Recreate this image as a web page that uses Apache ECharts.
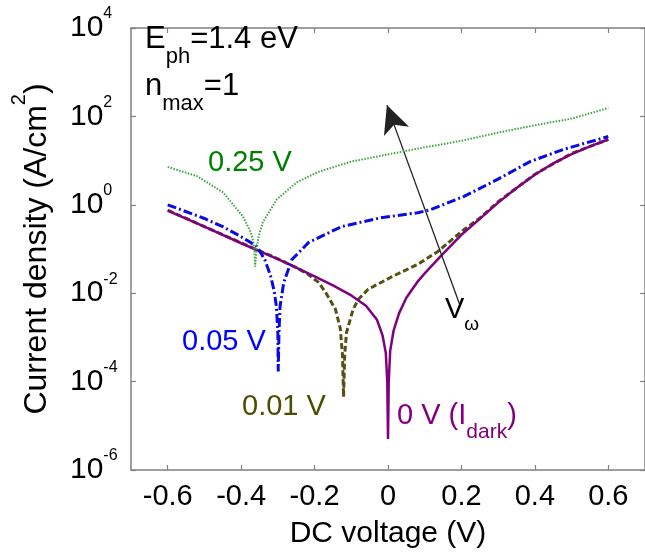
<!DOCTYPE html>
<html><head><meta charset="utf-8">
<script src="https://cdn.jsdelivr.net/npm/echarts@6/dist/echarts.min.js"></script>
<style>html,body{margin:0;padding:0;background:#fff}#c{width:645px;height:554px}</style>
</head><body><div id="c"></div>
<script>
// ---- data ----
const xTicks = [-0.6, -0.4, -0.2, 0, 0.2, 0.4, 0.6];
const yTicks = [1e-6, 1e-4, 1e-2, 1, 1e2, 1e4];

const darkX = [-0.6, -0.5, -0.4, -0.3, -0.25, -0.2, -0.15, -0.1, -0.06, -0.03, -0.015, -0.006, -0.002, 0, 0.002, 0.006, 0.015, 0.03, 0.05, 0.08, 0.1, 0.143, 0.2, 0.25, 0.3, 0.35, 0.4, 0.45, 0.5, 0.55, 0.6];
const darkY = [0.74, 0.32, 0.135, 0.059, 0.038, 0.024, 0.015, 0.0089, 0.0052, 0.0025, 0.00112, 0.00045, 0.0001, 5e-6, 0.0001, 0.0005, 0.0014, 0.0035, 0.0079, 0.018, 0.028, 0.068, 0.21, 0.48, 1.12, 2.4, 4.8, 8.7, 14, 21, 30];

const v001X = [-0.6, -0.5, -0.4, -0.3, -0.25, -0.22, -0.19, -0.17, -0.143, -0.13, -0.124, -0.121, -0.118, -0.113, -0.095, -0.081, -0.054, 0.008, 0.081, 0.135, 0.207, 0.25, 0.3, 0.4, 0.5, 0.6];
const v001Y = [0.76, 0.32, 0.138, 0.060, 0.038, 0.0275, 0.0178, 0.0105, 0.0043, 0.0016, 0.0004, 4.5e-5, 0.0004, 0.0013, 0.0043, 0.0072, 0.0123, 0.023, 0.045, 0.087, 0.275, 0.50, 1.17, 4.9, 14.5, 30];

const v005X = [-0.6, -0.5, -0.45, -0.4, -0.357, -0.335, -0.32, -0.31, -0.304, -0.3, -0.299, -0.297, -0.294, -0.284, -0.262, -0.216, -0.127, -0.019, 0.081, 0.117, 0.207, 0.297, 0.387, 0.477, 0.6];
const v005Y = [1.0, 0.49, 0.32, 0.19, 0.115, 0.056, 0.025, 0.0112, 0.005, 0.00126, 1.7e-4, 0.00126, 0.005, 0.0174, 0.0575, 0.141, 0.32, 0.51, 0.66, 0.78, 1.55, 3.7, 9.5, 17.8, 35];

const v025X = [-0.6, -0.519, -0.449, -0.395, -0.375, -0.368, -0.364, -0.362, -0.358, -0.352, -0.341, -0.303, -0.249, -0.189, -0.1, 0, 0.1, 0.2, 0.3, 0.4, 0.5, 0.6];
const v025Y = [7.2, 4.4, 1.9, 0.54, 0.25, 0.162, 0.1, 0.04, 0.1, 0.2, 0.4, 1.32, 3.2, 5.6, 9.5, 13.8, 20, 28, 43, 63, 89, 155];

const arrowFrom = [0.195, 5.6e-3];
const arrowTo = [-0.003, 180];

const pairs = (xs, ys) => xs.map((x, i) => [x, ys[i]]);

// ---- styling ----
const FONT = 'Liberation Sans, Arial, Helvetica, sans-serif';
const AX = '#808080';
const C_DARK = '#800080', C_001 = '#525214', C_005 = '#0a0ae6', C_025 = '#3aa63a';

const chart = echarts.init(document.getElementById('c'), null, {renderer: 'canvas'});

const yLabelFmt = v => '{b|10}{s|' + Math.round(Math.log10(v)) + '}';

function xAxisCfg(pos, main) {
  return {
    type: 'value', min: -0.7, max: 0.7, position: pos,
    axisLine: {show: true, onZero: false, lineStyle: {color: AX, width: 1.5}},
    axisTick: {show: true, inside: true, length: 5, customValues: xTicks, lineStyle: {color: AX, width: 1.2}},
    axisLabel: main ? {customValues: xTicks, fontSize: 29, color: '#000', margin: 12, fontFamily: FONT,
      formatter: v => String(Math.round(v * 10) / 10)} : {show: false},
    splitLine: {show: false},
    name: main ? 'DC voltage (V)' : '', nameLocation: 'middle', nameGap: 49,
    nameTextStyle: {fontSize: 30, color: '#000', fontFamily: FONT}
  };
}
function yAxisCfg(pos, main) {
  return {
    type: 'log', logBase: 10, min: 1e-6, max: 1e4, position: pos,
    axisLine: {show: true, onZero: false, lineStyle: {color: AX, width: 1.5}},
    axisTick: {show: true, inside: true, length: 5, customValues: yTicks, lineStyle: {color: AX, width: 1.2}},
    minorTick: {show: false},
    axisLabel: main ? {customValues: yTicks, formatter: yLabelFmt, align: 'left', margin: 61, color: '#000',
      rich: {b: {fontSize: 30, fontFamily: FONT, color: '#000'}, s: {fontSize: 16, fontFamily: FONT, color: '#000', padding: [0, 0, 28, 0]}}} : {show: false},
    splitLine: {show: false},
    name: main ? '{t|Current density (A/cm}{s|2}{t|)}' : '', nameLocation: 'middle', nameGap: 66, nameRotate: 90,
    nameTextStyle: {rich: {t: {fontSize: 32, fontFamily: FONT, color: '#000'}, s: {fontSize: 20, fontFamily: FONT, color: '#000', padding: [0, 0, 36, 0]}}}
  };
}

// annotation text helper: parts = [[text, isSub], ...]
function label(x, baseline, parts, color, F, subF, P) {
  const hasSub = parts.some(p => p[1]);
  const lh = hasSub ? Math.max(F, subF + P) : F;
  const y = baseline - (lh / 2 + 0.35 * F);
  return {
    type: 'text', left: x, top: y, z: 100,
    style: {
      text: parts.map(p => '{' + (p[1] ? 's' : 'b') + '|' + p[0] + '}').join(''),
      rich: {b: {fontSize: F, fontFamily: FONT, fill: color, color: color},
             s: {fontSize: subF, fontFamily: FONT, fill: color, color: color, padding: [P, 0, 0, 0]}}
    }
  };
}

const option = {
  animation: false,
  backgroundColor: '#fff',
  grid: {left: 131, top: 28, width: 518, height: 443, containLabel: false},
  xAxis: [xAxisCfg('bottom', true), xAxisCfg('top', false)],
  yAxis: [yAxisCfg('left', true), yAxisCfg('right', false)],
  series: [
    {name: '0.01 V', type: 'line', data: pairs(v001X, v001Y), symbol: 'none', z: 2,
     lineStyle: {color: C_001, width: 3, type: [6, 3]}},
    {name: '0 V', type: 'line', data: pairs(darkX, darkY), symbol: 'none', z: 3,
     lineStyle: {color: C_DARK, width: 2.5},
     markLine: {silent: true, animation: false, symbol: ['none', 'arrow'], symbolSize: [20, 28],
       label: {show: false}, itemStyle: {color: '#111'}, lineStyle: {color: '#222', width: 1.3, type: 'solid'},
       emphasis: {disabled: true},
       data: [[{coord: arrowFrom}, {coord: arrowTo}]]}},
    {name: '0.05 V', type: 'line', data: pairs(v005X, v005Y), symbol: 'none', z: 4,
     lineStyle: {color: C_005, width: 3, type: [9, 3, 2, 3]}},
    {name: '0.25 V', type: 'line', data: pairs(v025X, v025Y), symbol: 'none', z: 5,
     lineStyle: {color: C_025, width: 2, type: [1.5, 1.5]}}
  ],
  graphic: [
    label(145, 63, [['E', 0], ['ph', 1], ['=1.4 eV', 0]], '#000', 31, 22, 35),
    label(145, 110, [['n', 0], ['max', 1], ['=1', 0]], '#000', 31, 22, 35),
    label(208, 173, [['0.25 V', 0]], '#008000', 29, 20, 0),
    label(182, 352, [['0.05 V', 0]], '#0000ff', 29, 20, 0),
    label(242, 417, [['0.01 V', 0]], '#4d4d00', 29, 20, 0),
    label(397, 438, [['0 V (I', 0], ['dark', 1], [')', 0]], '#800080', 29, 21, 32),
    label(445, 330, [['V', 0], ['\u03c9', 1]], '#000', 29, 19, 30)
  ]
};
chart.setOption(option);
</script></body></html>
